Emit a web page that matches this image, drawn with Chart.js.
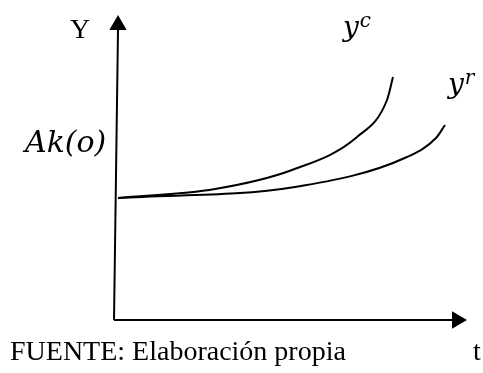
<!DOCTYPE html>
<html>
<head>
<meta charset="utf-8">
<script src="https://cdn.jsdelivr.net/npm/chart.js@4.4.1/dist/chart.umd.min.js"></script>
<style>
  body { margin: 0; background: #fff; }
  canvas { display: block; }
</style>
</head>
<body>
<canvas id="growthChart" width="483" height="373"></canvas>
<script>
  // curve readings (t, y) in arbitrary units, origin at the axes corner
  var tCons = [4, 101, 178, 243, 273, 279];
  var yCons = [122, 131, 150, 183, 220, 243];
  var tReal = [4, 181, 293, 322, 331];
  var yReal = [122, 133, 163, 182, 195];

  // axes
  var xAxisT = [0, 338];
  var xAxisY = [0, 0];
  var yAxisT = [0, 4];
  var yAxisY = [0, 290];

  function pts(xs, ys) {
    return xs.map(function (x, i) { return { x: x, y: ys[i] }; });
  }

  // text drawn at data positions
  var textPlugin = {
    id: 'texts',
    afterDatasetsDraw: function (chart, args, opts) {
      var ctx = chart.ctx;
      var sx = chart.scales.x, sy = chart.scales.y;
      ctx.save();
      ctx.fillStyle = '#000';
      ctx.textBaseline = 'alphabetic';
      ctx.textAlign = 'left';
      opts.items.forEach(function (it) {
        var px = sx.getPixelForValue(it.x);
        var py = sy.getPixelForValue(it.y);
        ctx.font = it.font;
        ctx.fillText(it.text, px, py);
        if (it.sup) {
          var w = ctx.measureText(it.text).width;
          ctx.font = it.supFont;
          ctx.fillText(it.sup, px + w + 1, py - it.supRaise);
        }
      });
      ctx.restore();
    }
  };

  var mathFont = 'italic 30px "DejaVu Serif"';
  var varFont = 'italic 28px "DejaVu Serif"';
  var supFont = 'italic 20px "DejaVu Serif"';
  var romanFont = '28px "Liberation Serif"';

  new Chart(document.getElementById('growthChart'), {
    type: 'scatter',
    data: {
      datasets: [
        { data: pts(tCons, yCons), showLine: true, borderColor: '#000', borderWidth: 2, pointRadius: 0, cubicInterpolationMode: 'monotone' },
        { data: pts(tReal, yReal), showLine: true, borderColor: '#000', borderWidth: 2, pointRadius: 0, cubicInterpolationMode: 'monotone' },
        { data: pts(xAxisT, xAxisY), showLine: true, borderColor: '#000', borderWidth: 2, pointRadius: 0 },
        { data: pts(yAxisT, yAxisY), showLine: true, borderColor: '#000', borderWidth: 2, pointRadius: 0 },
        { data: [{ x: 343, y: 0 }], pointStyle: 'triangle', rotation: 90, pointRadius: 10, backgroundColor: '#000', borderColor: '#000', borderWidth: 0 },
        { data: [{ x: 4, y: 295 }], pointStyle: 'triangle', rotation: 0, pointRadius: 10, backgroundColor: '#000', borderColor: '#000', borderWidth: 0 }
      ]
    },
    options: {
      responsive: false,
      animation: false,
      layout: { padding: 0, autoPadding: false },
      events: [],
      scales: {
        x: { type: 'linear', min: -114, max: 369, display: false },
        y: { type: 'linear', min: -53, max: 320, display: false }
      },
      plugins: {
        legend: { display: false },
        tooltip: { enabled: false },
        texts: {
          items: [
            { text: 'Y', x: -44, y: 282, font: romanFont },
            { text: 'Ak(o)', x: -89, y: 168, font: mathFont },
            { text: 'y', x: 229, y: 284, font: varFont, sup: 'c', supFont: supFont, supRaise: 9 },
            { text: 'y', x: 334, y: 227, font: varFont, sup: 'r', supFont: supFont, supRaise: 9 },
            { text: 'FUENTE: Elaboración propia', x: -104, y: -40, font: romanFont },
            { text: 't', x: 359, y: -40, font: romanFont }
          ]
        }
      }
    },
    plugins: [textPlugin]
  });
</script>
</body>
</html>
